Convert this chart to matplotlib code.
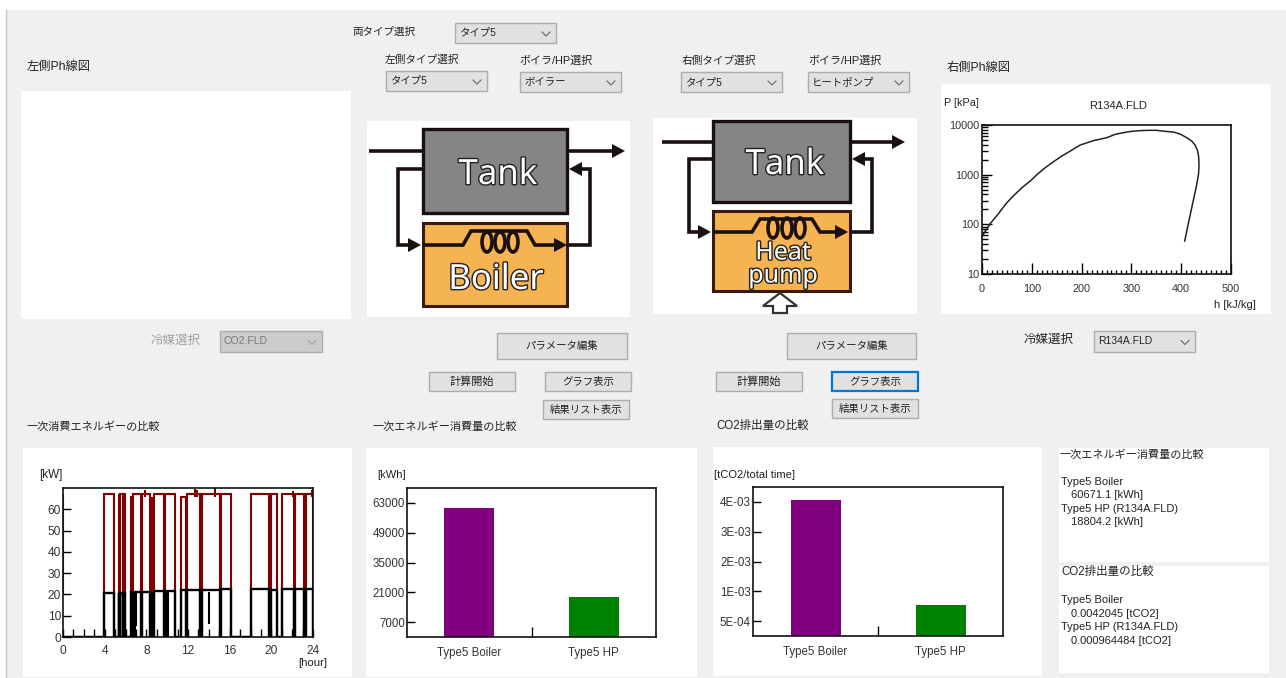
import matplotlib
matplotlib.use("Agg")
import matplotlib.pyplot as plt
import matplotlib.patheffects as pe
from matplotlib.patches import Rectangle, Polygon, Ellipse

plt.rcParams['font.family'] = ['Liberation Sans', 'Noto Sans CJK JP', 'DejaVu Sans']

W, H = 1286, 678
BG = '#f0f0f0'
TXT = '#222222'

# ---- data -------------------------------------------------------------
hour_ticks = [0, 4, 8, 12, 16, 20, 24]
kw_ticks = [0, 10, 20, 30, 40, 50, 60]
on_start = [3.95, 5.33, 5.43, 5.74, 6.52, 6.6, 6.68, 7.58, 8.42, 8.52, 8.62, 8.75, 9.75, 11.3, 11.95, 13.3, 15.2, 18.0, 20.0, 21.0, 22.3, 23.35]
on_end = [4.9, 5.42, 5.72, 5.98, 6.58, 6.66, 7.5, 8.38, 8.47, 8.57, 8.68, 9.68, 10.72, 11.78, 13.15, 15.05, 16.1, 19.8, 20.5, 22.15, 23.15, 24.0]
red_level = [67, 67, 67, 67, 66, 66, 67, 67, 66, 66, 66, 67, 67, 66, 67, 67, 67, 67, 67, 67, 67, 67]
black_level = [20.5, 20.5, 20.5, 20.5, 21, 21, 21, 21, 21, 21, 21, 21.5, 21.5, 22, 22, 22, 22.5, 22.5, 22, 22.5, 22.5, 22.5]
red_bump_t = [0.0, 7.85, 12.7, 12.85, 14.6, 22.1, 23.9, 11.85]
red_bump_lo = [20, 66, 66, 66, 66, 66, 66, 35]
red_bump_hi = [67, 69, 69.5, 69, 70, 68.5, 69, 66]
black_dip_t = [6.9, 7.05, 8.6, 9.85, 9.95, 10.05, 14.0, 22.2, 23.1]
black_dip_lo = [0, 5, 0, 0, 0, 0, 6, 0, 0]
black_dip_hi = [21, 21, 21, 21, 21, 21, 21, 22, 22]

energy_labels = ['Type5 Boiler', 'Type5 HP']
energy_kwh = [60671.1, 18804.2]
energy_colors = ['#800080', '#008000']
energy_ticks = [7000, 21000, 35000, 49000, 63000]
co2_t = [0.0042045, 0.000964484]
co2_ticks = [0.000462, 0.001386, 0.00231, 0.003234, 0.004158]
co2_ticklabels = ['5E-04', '1E-03', '2E-03', '3E-03', '4E-03']

ph_h = [-3, 3, 17, 33.4, 48.8, 63.5, 80.2, 96.9, 111.6, 127, 143.7, 160.4, 178.5, 197.2, 223.9, 250.7, 267.4, 284,
        300.8, 317.5, 334, 351, 367.6, 384, 397.7, 411, 421, 427.8, 432.5, 435, 435.8, 435, 431, 424.5, 415.8, 407]
ph_p = [47, 64, 105, 166, 265, 378, 547, 745, 1030, 1384, 1828, 2376, 3040, 3954, 4840, 5559, 6486, 7015,
        7450, 7700, 7810, 7810, 7450, 7230, 6590, 5559, 4766, 3954, 3140, 2300, 1567, 1064, 620, 309, 122, 46]
ph_xticks = [0, 100, 200, 300, 400, 500]
ph_yticks = [10, 100, 1000, 10000]

# ---- canvas -----------------------------------------------------------
fig = plt.figure(figsize=(W / 100, H / 100), dpi=100, facecolor='white')
ui = fig.add_axes([0, 0, 1, 1])
ui.set_xlim(0, W)
ui.set_ylim(H, 0)
ui.axis('off')


def rect(x0, y0, x1, y1, fc='white', ec='none', lw=0, z=1):
    ui.add_patch(Rectangle((x0, y0), x1 - x0, y1 - y0, fc=fc, ec=ec, lw=lw, zorder=z))


def label(x, y, s, size=8, color=TXT, ha='left'):
    ui.text(x, y, s, fontsize=size, color=color, ha=ha, va='center', zorder=6)


def combo(x0, y0, x1, y1, s, disabled=False):
    rect(x0, y0, x1, y1, fc='#cccccc' if disabled else '#e1e1e1', ec='#adadad', lw=1, z=3)
    label(x0 + 4, (y0 + y1) / 2, s, 7.5, '#777777' if disabled else TXT)
    cx, cy = x1 - 10, (y0 + y1) / 2 + 1
    ui.plot([cx - 4, cx, cx + 4], [cy - 2, cy + 2, cy - 2], color='#a5a5a5' if disabled else '#666666', lw=0.8, zorder=6)


def button(x0, y0, x1, y1, s, size=7.5, focus=False):
    rect(x0, y0, x1, y1, fc='#e1e1e1', ec='#0078d7' if focus else '#adadad', lw=1.6 if focus else 1, z=3)
    label((x0 + x1) / 2, (y0 + y1) / 2, s, size, ha='center')


def sub_axes(x0, y0, x1, y1):
    a = fig.add_axes([x0 / W, 1 - y1 / H, (x1 - x0) / W, (y1 - y0) / H])
    a.set_facecolor('white')
    for sp in a.spines.values():
        sp.set_linewidth(1.2)
        sp.set_color('#111111')
    return a


rect(7, 10, W, H, fc=BG, z=0)
ui.plot([6, 6], [10, H], color='#b4c8d8', lw=1, zorder=1)

# white panels
for box in [(21, 91, 351, 319), (367, 121, 630, 317), (653, 118, 917, 314), (941, 84, 1271, 314),
            (23, 448, 352, 677), (366, 448, 697, 677), (713, 447, 1042, 676),
            (1059, 448, 1269, 562), (1059, 566, 1269, 673)]:
    rect(*box)

# ---- controls ---------------------------------------------------------
label(352, 32, '両タイプ選択', 7.6)
combo(455, 23, 556, 43, 'タイプ5')
label(385, 60, '左側タイプ選択', 7.7)
combo(386, 71, 487, 91, 'タイプ5')
label(519, 61, 'ボイラ/HP選択', 7.9)
combo(520, 72, 621, 92, 'ボイラー')
label(682, 61, '右側タイプ選択', 7.7)
combo(681, 72, 782, 92, 'タイプ5')
label(808, 61, 'ボイラ/HP選択', 7.9)
combo(808, 72, 909, 92, 'ヒートポンプ')
label(27, 67, '左側Ph線図', 8.8)
label(947, 68, '右側Ph線図', 8.8)
label(151, 341, '冷媒選択', 9, '#a0a0a0')
combo(220, 331, 322, 352, 'CO2.FLD', disabled=True)
label(1024, 340, '冷媒選択', 9)
combo(1094, 331, 1195, 352, 'R134A.FLD')
button(497, 333, 627, 359, 'パラメータ編集')
button(787, 333, 916, 359, 'パラメータ編集')
button(429, 372, 515, 391, '計算開始', 8)
button(545, 372, 631, 391, 'グラフ表示')
button(543, 400, 629, 419, '結果リスト表示')
button(716, 372, 802, 391, '計算開始', 8)
button(832, 372, 918, 391, 'グラフ表示', focus=True)
button(832, 399, 918, 418, '結果リスト表示')
label(27, 426, '一次消費エネルギーの比較', 8)
label(373, 426, '一次エネルギー消費量の比較', 8)
label(716, 426, 'CO2排出量の比較', 8.3)

# ---- schematics -------------------------------------------------------
LINE = '#1a1010'


def poly(xs, ys, lw=2.6):
    ui.plot(xs, ys, color=LINE, lw=lw, zorder=4, solid_joinstyle='miter', solid_capstyle='butt')


def head(tipx, tipy, d):
    ui.add_patch(Polygon([(tipx, tipy), (tipx - d * 13, tipy - 7), (tipx - d * 13, tipy + 7)], fc=LINE, ec='none', zorder=5))


def big(x, y, s, size=25):
    ui.text(x, y, s, fontsize=size, color='white', ha='center', va='center', family='Noto Sans', zorder=6,
            path_effects=[pe.withStroke(linewidth=2, foreground='#222222')])


def schematic(tx0, tx1, ty0, ty1, by0, by1, in_x, out_x, yi, yl, yb, lx, rx, bump_x0, bump_x1, bump_y, coils, coil_y, coil_end):
    rect(tx0, ty0, tx1, ty1, fc='#858585', ec=LINE, lw=2.4, z=2)
    rect(tx0, by0, tx1, by1, fc='#f5b352', ec='#3a1a08', lw=2.2, z=2)
    poly([in_x, tx0], [yi, yi])
    poly([tx1, out_x - 10], [yi, yi])
    head(out_x, yi, 1)
    poly([tx0, lx, lx, tx0 - 10], [yl, yl, yb, yb])
    head(tx0 - 2, yb, 1)
    poly([tx1, rx, rx, tx1 + 8], [yb, yb, yl, yl])
    head(tx1 + 2, yl, -1)
    poly([tx0, bump_x0 - 5, bump_x0 + 3, bump_x1 - 3, bump_x1 + 5, coil_end - 8],
         [yb, yb, bump_y, bump_y, yb, yb])
    head(coil_end, yb, 1)
    for c in coils:
        ui.add_patch(Ellipse((c, coil_y), 10, 20, fc='none', ec=LINE, lw=2.6, zorder=5))


schematic(423, 567, 129, 213, 223, 306, 369, 625, 151, 169, 245, 398, 590, 468, 530, 231, [487, 500, 513], 242, 567)
big(498, 175, 'Tank')
big(496, 280, 'Boiler')
schematic(713, 850, 121, 202, 211, 291, 662, 905, 142, 159, 232, 689, 872, 757, 815, 219, [773, 787, 800], 228, 848)
big(785, 165, 'Tank')
big(783, 253, 'Heat', 18)
big(783, 276, 'pump', 18)
ui.add_patch(Polygon([(780, 293), (797, 306), (787, 306), (787, 313), (773, 313), (773, 306), (763, 306)],
                     fc='white', ec='#333333', lw=1.6, zorder=4))

# ---- chart 1: time series --------------------------------------------
ax1 = sub_axes(63, 488, 313, 637)
rt, ry, bt, by = [0, 0], [0, 0], [0, 0], [0, 0]
for s, e, r, b in zip(on_start, on_end, red_level, black_level):
    rt += [s, s, e, e]
    ry += [0, r, r, 0]
    bt += [s, s, e, e]
    by += [0, b, b, 0]
rt.append(24)
ry.append(0)
bt.append(24)
by.append(0)
ax1.plot(rt, ry, color='#800000', lw=1.5, solid_joinstyle='miter')
ax1.vlines(red_bump_t, red_bump_lo, red_bump_hi, color='#800000', lw=1.5)
ax1.plot(bt, by, color='black', lw=1.7, solid_joinstyle='miter', zorder=3)
ax1.vlines(black_dip_t, black_dip_lo, black_dip_hi, color='black', lw=1.5, zorder=3)
ax1.set_xlim(0, 24)
ax1.set_ylim(0, 70)
ax1.set_xticks(hour_ticks)
ax1.set_xticks(range(25), minor=True)
ax1.set_yticks(kw_ticks)
ax1.tick_params(axis='x', which='major', direction='in', length=6, width=1, labelsize=8.6, labelcolor='#333333', pad=6)
ax1.tick_params(axis='y', which='major', direction='in', length=6, width=1, labelsize=8.6, labelcolor='#333333', pad=1.5)
ax1.tick_params(axis='x', which='minor', direction='in', length=6, width=1)
label(39, 475, '[kW]', 8.4)
label(298, 663, '[hour]', 8.2)

# ---- chart 2 and 3: bars ---------------------------------------------
for box, vals, ymax, ticks, tlabels, unit, ux in [
        ((407, 488, 656, 637), energy_kwh, 70000, energy_ticks, [str(v) for v in energy_ticks], '[kWh]', 377),
        ((753, 487, 1003, 636), co2_t, 0.00462, co2_ticks, co2_ticklabels, '[tCO2/total time]', 714)]:
    a = sub_axes(*box)
    a.bar([0, 1], vals, width=0.4, color=energy_colors)
    a.set_xlim(-0.5, 1.5)
    a.set_ylim(0, ymax)
    a.set_xticks([0, 1], energy_labels)
    a.set_xticks([0.5], minor=True)
    a.set_yticks(ticks, tlabels)
    a.tick_params(axis='x', which='major', length=0, labelsize=8.3, labelcolor='#333333', pad=7)
    a.tick_params(axis='x', which='minor', direction='in', length=7, width=1)
    a.tick_params(axis='y', direction='in', length=6, width=1, labelsize=8.3, labelcolor='#333333', pad=1.5)
    label(ux, 475, unit, 8)

# ---- chart 4: Ph diagram ----------------------------------------------
ax4 = sub_axes(982, 125, 1231, 274)
ax4.plot(ph_h, ph_p, color='#222222', lw=1.1)
ax4.set_yscale('log')
ax4.set_xlim(0, 500)
ax4.set_ylim(10, 10000)
ax4.set_xticks(ph_xticks)
ax4.set_xticks(range(0, 501, 10), minor=True, labels=[])
ax4.set_yticks(ph_yticks, [str(v) for v in ph_yticks])
ax4.tick_params(axis='x', which='major', direction='in', length=8, width=1, labelsize=7.8, labelcolor='#333333', pad=7)
ax4.tick_params(axis='x', which='minor', direction='in', length=3, width=1)
ax4.tick_params(axis='y', which='major', direction='in', length=7, width=1, labelsize=7.8, labelcolor='#333333', pad=2)
ax4.tick_params(axis='y', which='minor', direction='in', length=4, width=1, labelleft=False)
label(944, 103, 'P [kPa]', 7.8)
label(1118, 106, 'R134A.FLD', 8, ha='center')
label(1214, 305, 'h [kJ/kg]', 8)

# ---- result text panels -----------------------------------------------
label(1060, 454, '一次エネルギー消費量の比較', 8)
label(1061, 482, energy_labels[0], 8)
label(1071, 495, f'{energy_kwh[0]} [kWh]', 8)
label(1061, 509, 'Type5 HP (R134A.FLD)', 8)
label(1071, 522, f'{energy_kwh[1]} [kWh]', 8)
label(1061, 572, 'CO2排出量の比較', 8.3)
label(1061, 600, energy_labels[0], 8)
label(1071, 614, f'{co2_t[0]} [tCO2]', 8)
label(1061, 627, 'Type5 HP (R134A.FLD)', 8)
label(1071, 641, f'{co2_t[1]} [tCO2]', 8)

fig.savefig('out.png', dpi=100)
